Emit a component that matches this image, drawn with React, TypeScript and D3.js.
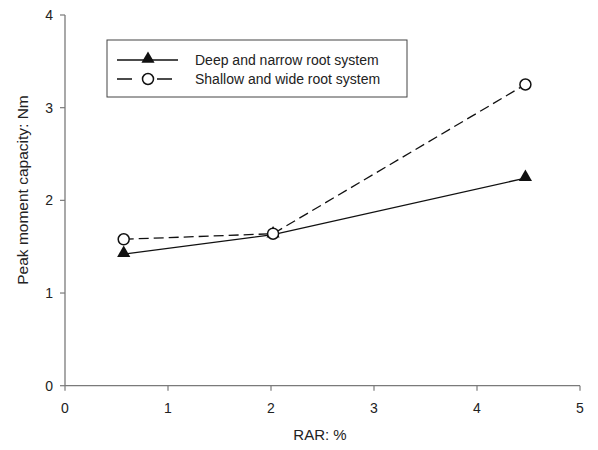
import React from "react";
import * as d3 from "d3";

const rar = [0.57, 2.02, 4.47];
const deepNarrow = [1.42, 1.63, 2.24];
const shallowWide = [1.58, 1.64, 3.25];
const xTicks = [0, 1, 2, 3, 4, 5];
const yTicks = [0, 1, 2, 3, 4];
const seriesNames = ["Deep and narrow root system", "Shallow and wide root system"];

export default function App() {
  const W = 598, H = 450;
  const x = d3.scaleLinear().domain([0, 5]).range([65, 580]);
  const y = d3.scaleLinear().domain([0, 4]).range([385.7, 15]);
  const line = d3.line<[number, number]>().x(d => x(d[0])).y(d => y(d[1]));
  const deepPts = rar.map((r, i) => [r, deepNarrow[i]] as [number, number]);
  const shallowPts = rar.map((r, i) => [r, shallowWide[i]] as [number, number]);
  const tri = d3.symbol().type(d3.symbolTriangle).size(75)();
  const font = "Liberation Sans, Arial, sans-serif";
  const axisColor = "#7a7a7a";
  return (
    <svg width={W} height={H} style={{ position: "absolute", left: 0, top: 0 }} fontFamily={font}>
      <rect width={W} height={H} fill="#fff" />
      {/* axes */}
      <line x1={x(0)} x2={x(0)} y1={y(0)} y2={y(4)} stroke={axisColor} strokeWidth={1.3} />
      <line x1={x(0)} x2={x(5)} y1={y(0)} y2={y(0)} stroke={axisColor} strokeWidth={1.3} />
      {yTicks.map(t => (
        <g key={"y" + t}>
          <line x1={x(0) - 5} x2={x(0)} y1={y(t)} y2={y(t)} stroke={axisColor} strokeWidth={1.2} />
          <text x={x(0) - 12} y={y(t)} dy="0.35em" textAnchor="end" fontSize={14} fill="#222">{t}</text>
        </g>
      ))}
      {xTicks.map(t => (
        <g key={"x" + t}>
          <line x1={x(t)} x2={x(t)} y1={y(0)} y2={y(0) + 5} stroke={axisColor} strokeWidth={1.2} />
          <text x={x(t)} y={y(0) + 27} textAnchor="middle" fontSize={14} fill="#222">{t}</text>
        </g>
      ))}
      <text x={320} y={440} textAnchor="middle" fontSize={15} fill="#222">RAR: %</text>
      <text transform={`translate(28,190) rotate(-90)`} textAnchor="middle" fontSize={15.5} fill="#222">Peak moment capacity: Nm</text>
      {/* lines */}
      <path d={line(deepPts) || ""} fill="none" stroke="#111" strokeWidth={1.3} />
      <path d={line(shallowPts) || ""} fill="none" stroke="#111" strokeWidth={1.3} strokeDasharray="10,5" />
      {deepPts.map((p, i) => (
        <path key={"t" + i} d={tri || ""} transform={`translate(${x(p[0])},${y(p[1]) - 1})`} fill="#111" />
      ))}
      {shallowPts.map((p, i) => (
        <circle key={"c" + i} cx={x(p[0])} cy={y(p[1])} r={5.5} fill="#fff" stroke="#111" strokeWidth={1.5} />
      ))}
      {/* legend */}
      <rect x={107} y={40} width={300} height={57} fill="#fff" stroke="#444" strokeWidth={1} />
      <line x1={117} x2={178} y1={60} y2={60} stroke="#111" strokeWidth={1.3} />
      <path d={tri || ""} transform="translate(148,59)" fill="#111" />
      <line x1={117} x2={178} y1={79} y2={79} stroke="#111" strokeWidth={1.3} strokeDasharray="15,25" />
      <circle cx={148} cy={79} r={5.5} fill="#fff" stroke="#111" strokeWidth={1.5} />
      <text x={195} y={60} dy="0.35em" fontSize={14} fill="#222">{seriesNames[0]}</text>
      <text x={195} y={79} dy="0.35em" fontSize={14} fill="#222">{seriesNames[1]}</text>
    </svg>
  );
}
